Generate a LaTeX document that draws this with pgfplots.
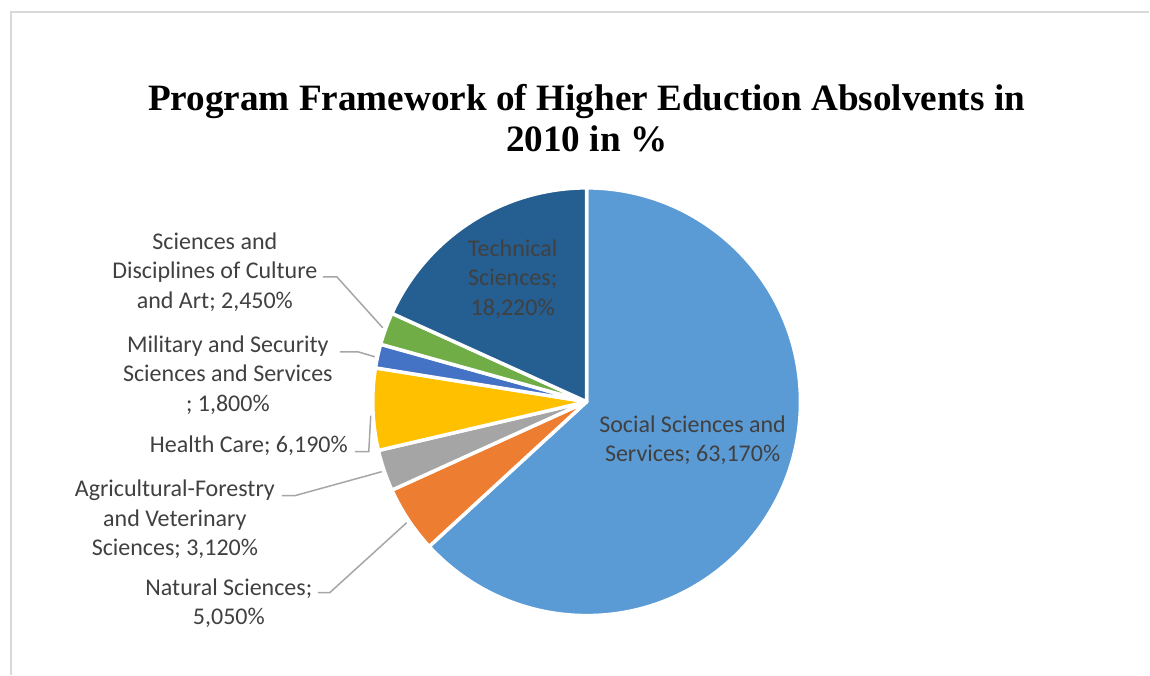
\documentclass[border=0pt]{standalone}
\usepackage{pgfplots}
\pgfplotsset{compat=1.18}
\usepackage{fontspec}
\setmainfont{Carlito}
\newfontfamily\titlefont{Liberation Serif}
\definecolor{cSoc}{HTML}{5B9BD5}
\definecolor{cNat}{HTML}{ED7D31}
\definecolor{cAgr}{HTML}{A5A5A5}
\definecolor{cHea}{HTML}{FFC000}
\definecolor{cMil}{HTML}{4472C4}
\definecolor{cCul}{HTML}{70AD47}
\definecolor{cTec}{HTML}{255E91}
\definecolor{txt}{HTML}{404040}
\definecolor{lead}{HTML}{A6A6A6}
\definecolor{frame}{HTML}{D9D9D9}
% shares in %
\def\vSoc{63.17}
\def\vNat{5.05}
\def\vAgr{3.12}
\def\vHea{6.19}
\def\vMil{1.80}
\def\vCul{2.45}
\def\vTec{18.22}
\begin{document}
\begin{tikzpicture}
\pgfmathsetmacro\aO{90}
\pgfmathsetmacro\aA{\aO-3.6*\vSoc}
\pgfmathsetmacro\aB{\aA-3.6*\vNat}
\pgfmathsetmacro\aC{\aB-3.6*\vAgr}
\pgfmathsetmacro\aD{\aC-3.6*\vHea}
\pgfmathsetmacro\aE{\aD-3.6*\vMil}
\pgfmathsetmacro\aF{\aE-3.6*\vCul}
\pgfmathsetmacro\aG{\aF-3.6*\vTec}
\begin{axis}[hide axis, scale only axis, width=1150pt, height=675pt,
  xmin=0, xmax=1150, ymin=0, ymax=675, clip=false]
\path (axis cs:0,0) rectangle (axis cs:1150,675);
\draw[frame, line width=1.5pt] (axis cs:11,0) -- (axis cs:11,663) -- (axis cs:1150,663);
% wedges
\tikzset{wedge/.style={draw=white, line width=3.5pt, line join=round}}
\filldraw[wedge, fill=cSoc] (axis cs:587,273) -- ++(\aO:214pt) arc[start angle=\aO, end angle=\aA, radius=214pt] -- cycle;
\filldraw[wedge, fill=cNat] (axis cs:587,273) -- ++(\aA:214pt) arc[start angle=\aA, end angle=\aB, radius=214pt] -- cycle;
\filldraw[wedge, fill=cAgr] (axis cs:587,273) -- ++(\aB:214pt) arc[start angle=\aB, end angle=\aC, radius=214pt] -- cycle;
\filldraw[wedge, fill=cHea] (axis cs:587,273) -- ++(\aC:214pt) arc[start angle=\aC, end angle=\aD, radius=214pt] -- cycle;
\filldraw[wedge, fill=cMil] (axis cs:587,273) -- ++(\aD:214pt) arc[start angle=\aD, end angle=\aE, radius=214pt] -- cycle;
\filldraw[wedge, fill=cCul] (axis cs:587,273) -- ++(\aE:214pt) arc[start angle=\aE, end angle=\aF, radius=214pt] -- cycle;
\filldraw[wedge, fill=cTec] (axis cs:587,273) -- ++(\aF:214pt) arc[start angle=\aF, end angle=\aG, radius=214pt] -- cycle;
% title
\node[anchor=base, font=\titlefont\bfseries\fontsize{37.2}{40}\selectfont] at (axis cs:587,564) {Program Framework of Higher Eduction Absolvents in};
\node[anchor=base, font=\titlefont\bfseries\fontsize{37.2}{40}\selectfont] at (axis cs:587,523) {2010 in \%};
% leader lines
\tikzset{ld/.style={lead, line width=1.5pt}}
\draw[ld] (axis cs:323,398) -- (axis cs:337,398) -- (axis cs:383,347);
\draw[ld] (axis cs:340,323) -- (axis cs:358,323) -- (axis cs:375,318);
\draw[ld] (axis cs:355,223) -- (axis cs:369,223) -- (axis cs:371,259);
\draw[ld] (axis cs:282,179) -- (axis cs:295,179) -- (axis cs:382,203);
\draw[ld] (axis cs:318,82) -- (axis cs:330,82) -- (axis cs:407,152);
% labels
\tikzset{lb/.style={txt, align=center, inner sep=0pt, font=\fontsize{24}{29.5}\selectfont}}
\node[lb] at (axis cs:513,396) {Technical\\Sciences;\\18,220\%};
\node[lb] at (axis cs:693,234.5) {Social Sciences and\\Services; 63,170\%};
\node[lb] at (axis cs:215,403) {Sciences and\\Disciplines of Culture\\and Art; 2,450\%};
\node[lb] at (axis cs:228,300) {Military and Security\\Sciences and Services\\; 1,800\%};
\node[lb] at (axis cs:249,229) {Health Care; 6,190\%};
\node[lb] at (axis cs:175,155) {Agricultural-Forestry\\and Veterinary\\Sciences; 3,120\%};
\node[lb] at (axis cs:229,71.5) {Natural Sciences;\\5,050\%};
\end{axis}
\end{tikzpicture}
\end{document}
